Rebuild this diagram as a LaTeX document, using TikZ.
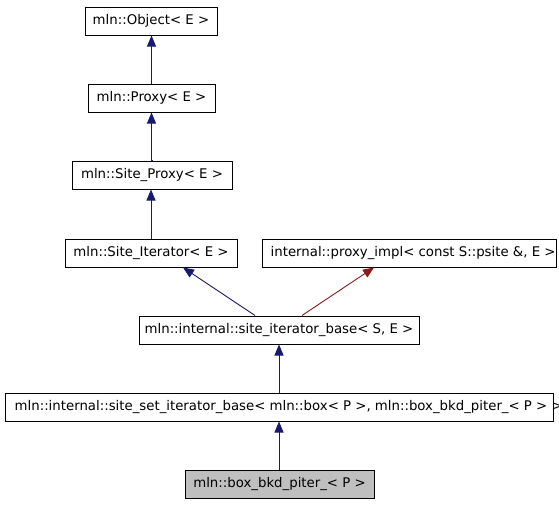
\documentclass[tikz,border=0pt]{standalone}
\usepackage{fontspec}
\setmainfont{DejaVu Sans}
\usetikzlibrary{arrows.meta}
\definecolor{edgeblue}{HTML}{191970}
\definecolor{edgered}{HTML}{8B1A1A}
\definecolor{cur}{HTML}{BFBFBF}
\begin{document}
\begin{tikzpicture}[x=1pt,y=-1pt,
  cls/.style={draw=black, line width=1pt, fill=white, inner sep=0pt, minimum height=28pt,
    font=\fontsize{13.3}{16}\selectfont},
  lbl/.style={inner sep=0pt, anchor=west, font=\fontsize{13.3}{16}\selectfont},
  inh/.style={draw=edgeblue, line width=0.9pt, -{Triangle[length=11pt,width=9pt]}},
  tpl/.style={draw=edgered, line width=0.9pt, -{Triangle[length=11pt,width=9pt]}}]
\useasboundingbox (0,0) rectangle (559,504);
\fill[white] (0,0) rectangle (559,504);
\node[cls, minimum width=132pt] (obj) at (151,21) {mln::Object< E >};
\node[cls, minimum width=127pt] (prx) at (151.5,98) {mln::Proxy< E >};
\node[cls, minimum width=160pt] (sp) at (152,175) {mln::Site\_Proxy< E >};
\node[cls, minimum width=172pt] (sit) at (151,253) {mln::Site\_Iterator< E >};
\node[cls, minimum width=294pt] (pxi) at (409,253) {};
\node[lbl] (pxit) at ([xshift=9pt]pxi.west) {internal::proxy\_impl< const S::psite \&, E >};
\node[cls, minimum width=280pt] (sib) at (279,330) {mln::internal::site\_iterator\_base< S, E >};
\node[cls, minimum width=548pt] (ssi) at (279,407) {};
\node[lbl] (ssit) at ([xshift=10pt]ssi.west) {mln::internal::site\_set\_iterator\_base< mln::box< P >, mln::box\_bkd\_piter\_< P > >};
\node[cls, fill=cur, minimum width=189pt] (bkd) at (279.5,484) {mln::box\_bkd\_piter\_< P >};
\draw[inh] (prx.north) -- (prx.north |- obj.south);
\draw[inh] (sp.north) -- (sp.north -| prx.south) -- (prx.south);
\draw[inh] (sit.north) -- (sit.north |- sp.south);
\draw[inh] ([xshift=-24pt]sib.north) -- ([xshift=32pt]sit.south);
\draw[tpl] ([xshift=23pt]sib.north) -- ([xshift=-35pt]pxi.south);
\draw[inh] (ssi.north) -- (sib.south);
\draw[inh] (bkd.north) -- (bkd.north -| ssi.south) -- (ssi.south);
\end{tikzpicture}
\end{document}
